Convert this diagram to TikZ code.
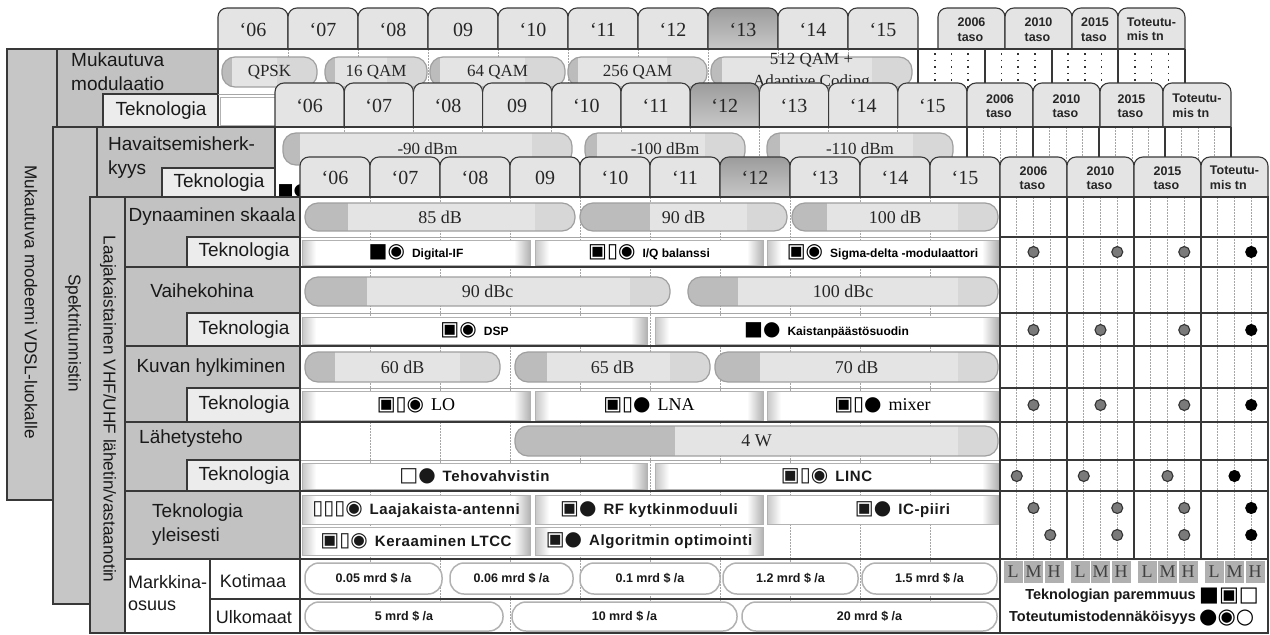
\documentclass[tikz,border=0pt]{standalone}
\usepackage{fontspec}
\setmainfont{Liberation Sans}
\newfontfamily\serif{Liberation Serif}
\newfontfamily\djv{DejaVu Sans}
\newfontfamily\spsans[LetterSpace=4]{Liberation Sans}
\usetikzlibrary{calc}

\definecolor{colgray}{HTML}{C6C6C6}
\definecolor{lblgray}{HTML}{C2C2C2}
\definecolor{tekgray}{HTML}{ECECEC}
\definecolor{tabfill}{HTML}{E4E4E4}
\definecolor{tabtop}{HTML}{9C9C9C}
\definecolor{tabbot}{HTML}{D4D4D4}
\definecolor{barfill}{HTML}{E4E4E4}
\definecolor{bardark}{HTML}{BCBCBC}
\definecolor{barlight}{HTML}{D7D7D7}
\definecolor{linec}{HTML}{383838}
\definecolor{dotgray}{HTML}{9A9A9A}
\definecolor{lmhgray}{HTML}{B0B0B0}
\definecolor{dotfill}{HTML}{7A7A7A}

\tikzset{
  tablt/.style={draw=linec, line width=1.1, fill=tabfill, rounded corners=9pt},
  tabdk/.style={draw=linec, line width=1.1, top color=tabtop, bottom color=tabbot, rounded corners=9pt},
  yr/.style={font=\serif\fontsize{20}{22}\selectfont, text=black!85},
  evt/.style={font=\bfseries\fontsize{12.5}{14.5}\selectfont, align=left, text=black!85, inner sep=0},
  lbl/.style={font=\fontsize{19}{24}\selectfont, text=black!90, inner sep=0},
  vlbl/.style={font=\fontsize{17.2}{20}\selectfont, text=black!90, rotate=-90, inner sep=0},
  bartxt/.style={font=\serif\fontsize{18}{22}\selectfont, text=black!85, inner sep=0},
  smbartxt/.style={font=\serif\fontsize{17}{22}\selectfont, text=black!85, inner sep=0, align=center},
  tektxt/.style={font=\bfseries\fontsize{12}{14}\selectfont, inner sep=0},
  tekser/.style={font=\serif\fontsize{18}{20}\selectfont, inner sep=0},
  teksp/.style={font=\spsans\bfseries\fontsize{15}{18}\selectfont, text=black!90, inner sep=0},
  mkt/.style={font=\bfseries\fontsize{12.5}{14}\selectfont, text=black!90, inner sep=0},
  legt/.style={font=\bfseries\fontsize{14.5}{16}\selectfont, text=black!90, inner sep=0},
  barline/.style={draw=gray!75, line width=1.2},
  frame/.style={draw=linec, line width=1.1},
  thinrow/.style={draw=gray!70, line width=0.8},
  vdot/.style={draw=gray!70, line width=0.9, dash pattern=on 1.5pt off 1.5pt},
  bigdot/.style={draw=black!80, line width=1.6, dash pattern=on 1.6pt off 5pt},
  edot/.style={circle, minimum size=11, inner sep=0, fill=dotfill, draw=black!80, line width=1.1},
  edotb/.style={circle, minimum size=11, inner sep=0, fill=black, draw=black, line width=1.1},
  lmh/.style={fill=lmhgray, minimum width=19, minimum height=22, inner sep=0, font=\serif\fontsize{18}{20}\selectfont, text=black!75},
}

% tab: name x1 x2 y1 y2 shapestyle nodestyle text
\newcommand\ytab[8]{%
  \path[#6] (#2,#4) rectangle (#3,{#5+12});
  \node[#7] (#1) at ({(#2+#3)/2},{(#4+#5)/2+1}) {#8};
}
% bar: name x1 x2 y1 y2 xdark nodestyle text
\newcommand\pbar[8]{%
  \begin{scope}
    \clip[rounded corners=13pt] (#2,#4) rectangle (#3,#5);
    \fill[barfill] (#2,#4) rectangle (#3,#5);
    \fill[bardark] (#2,#4) rectangle (#6,#5);
    \fill[barlight] ({#3-40},#4) rectangle (#3,#5);
  \end{scope}
  \draw[barline, rounded corners=13pt] (#2,#4) rectangle (#3,#5);
  \node[#7] (#1) at ({(#2+#3)/2},{(#4+#5)/2}) {#8};
}
% tech box: name x1 x2 y1 y2 nodestyle text
\newcommand\tbox[7]{%
  \fill[white] (#2,#4) rectangle (#3,#5);
  \shade[left color=gray!45, right color=white] (#2,#4) rectangle ({#2+14},#5);
  \shade[left color=white, right color=gray!60] ({#3-16},#4) rectangle (#3,#5);
  \draw[gray!60, line width=0.8] (#2,#4) rectangle (#3,#5);
  \node[#6] (#1) at ({(#2+#3)/2},{(#4+#5)/2}) {#7};
}
% market pill: name x1 x2 y1 y2 text
\newcommand\mpill[6]{%
  \filldraw[fill=white, draw=gray!60, line width=1.5, rounded corners=14pt] (#2,#4) rectangle (#3,#5);
  \node[mkt] (#1) at ({(#2+#3)/2},{(#4+#5)/2}) {#6};
}
\newcommand\ico[1]{{\djv\fontsize{20}{20}\selectfont#1}\hspace{7pt}}

\begin{document}
\begin{tikzpicture}[x=1pt, y=-1pt]
\useasboundingbox (0,0) rectangle (1270,635);
\fill[white] (0,0) rectangle (1270,635);

% ================= SHEET 1 =================
\foreach \t [count=\i from 0] in {‘06,‘07,‘08,09,‘10,‘11,‘12,‘13,‘14,‘15}{
  \pgfmathsetmacro\xa{218+70*\i}
  \pgfmathsetmacro\xb{288+70*\i}
  \ifnum\i=7
    \ytab{a\i}{\xa}{\xb}{8}{49}{tabdk}{yr}{\t}
  \else
    \ytab{a\i}{\xa}{\xb}{8}{49}{tablt}{yr}{\t}
  \fi
}
\ytab{a10}{938}{1005}{8}{49}{tablt}{evt}{2006\\taso}
\ytab{a11}{1005}{1072}{8}{49}{tablt}{evt}{2010\\taso}
\ytab{a12}{1072}{1118}{8}{49}{tablt}{evt}{2015\\taso}
\ytab{a13}{1118}{1185}{8}{49}{tablt}{evt}{Toteutu-\\mis tn}

\fill[white] (218,49) rectangle (1185,130);
\filldraw[fill=colgray, frame] (7,49) rectangle (57,500);
\node[vlbl] (v1) at (31,302) {Mukautuva modeemi VDSL-luokalle};
\filldraw[fill=lblgray, frame] (57,49) rectangle (218,127);
\node[lbl, align=left, anchor=west] (m1) at (71,72) {Mukautuva\\modulaatio};
\filldraw[fill=tekgray, frame] (103,94) rectangle (218,127);
\node[lbl] (t1) at (161,111) {Teknologia};
\foreach \i in {1,...,9} \draw[vdot] ({218+70*\i},49) -- ({218+70*\i},127);
\draw[thinrow] (218,94) -- (918,94);
\filldraw[fill=white, draw=gray!60, line width=0.8] (220,97) rectangle (640,125);
\pbar{a1b}{222}{317}{57}{87}{232}{smbartxt}{QPSK}
\pbar{a2b}{325}{427}{57}{87}{335}{smbartxt}{16 QAM}
\pbar{a3b}{430}{565}{57}{87}{440}{smbartxt}{64 QAM}
\pbar{a4b}{568}{707}{57}{87}{578}{smbartxt}{256 QAM}
\pbar{a5b}{711}{912}{57}{87}{722}{smbartxt}{512 QAM +\\Adaptive Coding}
\foreach \c in {0,...,3}{\foreach \k in {1,2,3}
  \draw[bigdot] ({918+66.75*\c+16.7*\k},53) -- ({918+66.75*\c+16.7*\k},127);}
\foreach \x in {918,985,1052,1118,1185} \draw[frame] (\x,49) -- (\x,127);
\draw[frame] (7,49) -- (1185,49);

% ================= SHEET 2 =================
\foreach \t [count=\i from 0] in {‘06,‘07,‘08,09,‘10,‘11,‘12,‘13,‘14,‘15}{
  \pgfmathsetmacro\xa{275+69.2*\i}
  \pgfmathsetmacro\xb{344.2+69.2*\i}
  \ifnum\i=6
    \ytab{b\i}{\xa}{\xb}{83}{127}{tabdk}{yr}{\t}
  \else
    \ytab{b\i}{\xa}{\xb}{83}{127}{tablt}{yr}{\t}
  \fi
}
\ytab{b10}{967}{1033}{83}{127}{tablt}{evt}{2006\\taso}
\ytab{b11}{1033}{1100}{83}{127}{tablt}{evt}{2010\\taso}
\ytab{b12}{1100}{1163}{83}{127}{tablt}{evt}{2015\\taso}
\ytab{b13}{1163}{1231}{83}{127}{tablt}{evt}{Toteutu-\\mis tn}

\fill[white] (275,127) rectangle (1231,200);
\filldraw[fill=colgray, frame] (53,127) rectangle (97,604);
\node[vlbl] (v2) at (73,333) {Spektritunnistin};
\filldraw[fill=lblgray, frame] (97,127) rectangle (275,200);
\node[lbl, align=left, anchor=west] (h2) at (108,158) {Havaitsemisherk-\\kyys};
\filldraw[fill=tekgray, frame] (162,168) rectangle (275,200);
\node[lbl] (t2) at (219,183) {Teknologia};
\foreach \i in {1,...,9} \draw[vdot] ({275+69.2*\i},127) -- ({275+69.2*\i},200);
\pbar{b1b}{283}{572}{133}{165}{300}{smbartxt}{-90 dBm}
\pbar{b2b}{585}{745}{133}{165}{597}{smbartxt}{-100 dBm}
\pbar{b3b}{767}{953}{133}{165}{780}{smbartxt}{-110 dBm}
\node[font=\djv\fontsize{17}{17}\selectfont, inner sep=0] (b2i) at (293,191) {■●};
\foreach \c in {0,...,3}{\foreach \k in {1,2,3}
  \draw[vdot] ({967+66*\c+16.5*\k},127) -- ({967+66*\c+16.5*\k},200);}
\foreach \x in {967,1033,1099,1165,1231} \draw[frame] (\x,127) -- (\x,200);
\draw[frame] (53,127) -- (1231,127);

% ================= SHEET 3 =================
\foreach \t [count=\i from 0] in {‘06,‘07,‘08,09,‘10,‘11,‘12,‘13,‘14,‘15}{
  \pgfmathsetmacro\xa{300+70*\i}
  \pgfmathsetmacro\xb{370+70*\i}
  \ifnum\i=6
    \ytab{c\i}{\xa}{\xb}{157}{197}{tabdk}{yr}{\t}
  \else
    \ytab{c\i}{\xa}{\xb}{157}{197}{tablt}{yr}{\t}
  \fi
}
\ytab{c10}{1000}{1067}{157}{197}{tablt}{evt}{2006\\taso}
\ytab{c11}{1067}{1134}{157}{197}{tablt}{evt}{2010\\taso}
\ytab{c12}{1134}{1201}{157}{197}{tablt}{evt}{2015\\taso}
\ytab{c13}{1201}{1268}{157}{197}{tablt}{evt}{Toteutu-\\mis tn}

\fill[white] (300,197) rectangle (1268,633);
\filldraw[fill=colgray, frame] (90,197) rectangle (125,633);
\node[vlbl] (v3) at (108,409) {Laajakaistainen VHF/UHF lähetin/vastaanotin};
\fill[lblgray] (125,197) rectangle (300,559);
\fill[white] (125,559) rectangle (300,633);

% row labels
\node[lbl] (r1) at (212,217) {Dynaaminen skaala};
\node[lbl] (r2) at (202,291) {Vaihekohina};
\node[lbl] (r3) at (211,368) {Kuvan hylkiminen};
\node[lbl, anchor=west] (r4) at (139,439) {Lähetysteho};
\node[lbl, align=left, anchor=west] (r5) at (152,525) {Teknologia\\yleisesti};
\node[lbl, font=\fontsize{18}{22}\selectfont, align=left, anchor=west] (r6) at (128,593) {Markkina-\\osuus};
\node[lbl, font=\fontsize{18}{22}\selectfont] (r6a) at (253,581) {Kotimaa};
\node[lbl, font=\fontsize{18}{22}\selectfont] (r6b) at (254,617) {Ulkomaat};
\foreach \ya/\yb/\n in {237/267/1, 313/346/2, 388/422/3, 460/491/4}{
  \filldraw[fill=tekgray, frame] (187,\ya) rectangle (300,\yb);
  \node[lbl] (tk\n) at (244,{(\ya+\yb)/2}) {Teknologia};
}

% year grid dotted lines
\foreach \i in {1,...,9} \draw[vdot] ({300+70*\i},197) -- ({300+70*\i},633);
% row lines
\foreach \y in {237,313,388,460} \draw[thinrow] (300,\y) -- (1000,\y);
\foreach \y in {267,346,422,491,559} \draw[frame] (125,\y) -- (1000,\y);
\draw[frame] (210,599) -- (1000,599);
\draw[frame] (210,559) -- (210,633);
\draw[frame] (300,197) -- (300,633);

% bars
\pbar{d1b}{305}{575}{203}{231}{348}{bartxt}{85 dB}
\pbar{d2b}{580}{787}{203}{231}{650}{bartxt}{90 dB}
\pbar{d3b}{792}{998}{203}{231}{827}{bartxt}{100 dB}
\pbar{e1b}{305}{670}{277}{306}{367}{bartxt}{90 dBc}
\pbar{e2b}{688}{998}{277}{306}{738}{bartxt}{100 dBc}
\pbar{f1b}{305}{500}{352}{382}{335}{bartxt}{60 dB}
\pbar{f2b}{515}{710}{352}{382}{547}{bartxt}{65 dB}
\pbar{f3b}{715}{998}{352}{382}{760}{bartxt}{70 dB}
\pbar{g1b}{515}{998}{426}{456}{675}{bartxt}{4 W}

% technology boxes
\tbox{d1}{302}{530}{240}{265}{tektxt}{\ico{■◉}Digital-IF}
\tbox{d2}{535}{763}{240}{265}{tektxt}{\ico{▣▯◉}I/Q balanssi}
\tbox{d3}{767}{998}{240}{265}{tektxt}{\ico{▣◉}Sigma-delta -modulaattori}
\tbox{e1}{302}{647}{317}{344}{tektxt}{\ico{▣◉}DSP}
\tbox{e2}{655}{998}{317}{344}{tektxt}{\ico{■●}Kaistanpäästösuodin}
\tbox{f1}{302}{530}{391}{420}{tekser}{\ico{▣▯◉}LO}
\tbox{f2}{535}{763}{391}{420}{tekser}{\ico{▣▯●}LNA}
\tbox{f3}{767}{998}{391}{420}{tekser}{\ico{▣▯●}mixer}
\tbox{g1}{302}{647}{463}{489}{teksp}{\ico{□●}Tehovahvistin}
\tbox{g2}{655}{998}{463}{489}{teksp}{\ico{▣▯◉}LINC}
\tbox{h1}{302}{530}{495}{524}{teksp}{\ico{▯▯▯◉}Laajakaista-antenni}
\tbox{h2}{535}{763}{495}{524}{teksp}{\ico{▣●}RF kytkinmoduuli}
\tbox{h3}{767}{998}{495}{524}{teksp}{\hspace{40pt}\ico{▣●}IC-piiri}
\tbox{h4}{302}{530}{527}{555}{teksp}{\ico{▣▯◉}Keraaminen LTCC}
\tbox{h5}{535}{763}{527}{555}{teksp}{\ico{▣●}Algoritmin optimointi}

% market pills
\mpill{p1}{305}{442}{563}{594}{0.05 mrd \$ /a}
\mpill{p2}{450}{573}{563}{594}{0.06 mrd \$ /a}
\mpill{p3}{580}{720}{563}{594}{0.1 mrd \$ /a}
\mpill{p4}{723}{858}{563}{594}{1.2 mrd \$ /a}
\mpill{p5}{862}{997}{563}{594}{1.5 mrd \$ /a}
\mpill{q1}{305}{503}{602}{631}{5 mrd \$ /a}
\mpill{q2}{512}{737}{602}{631}{10 mrd \$ /a}
\mpill{q3}{742}{997}{602}{631}{20 mrd \$ /a}

% evaluation grid
\foreach \c in {0,...,3}{\foreach \k in {1,2,3}
  \draw[vdot] ({1000+67*\c+16.75*\k},197) -- ({1000+67*\c+16.75*\k},559);}
\foreach \y in {237,267,313,346,388,422,460,491,559} \draw[frame] (1000,\y) -- (1268,\y);
\foreach \x in {1067,1134,1201} \draw[frame] (\x,197) -- (\x,559);
\draw[frame] (1000,197) -- (1000,633);

\foreach \x/\y [count=\n] in {1033.5/252,1117.25/252,1184.25/252,
  1033.5/330,1100.5/330,1184.25/330,
  1033.5/405,1100.5/405,1184.25/405,
  1016.75/476,1083.75/476,1167.5/476,
  1033.5/508,1117.25/508,1184.25/508,
  1050.25/535,1117.25/535,1184.25/535}
  \node[edot] (gd\n) at (\x,\y) {};
\foreach \x/\y [count=\n] in {1251.25/252,1251.25/330,1251.25/405,1234.5/476,1251.25/508,1251.25/535}
  \node[edotb] (bd\n) at (\x,\y) {};

\foreach \c in {0,...,3}{
  \node[lmh] (lL\c) at ({1000+67*\c+13},572) {L};
  \node[lmh] (lM\c) at ({1000+67*\c+33.5},572) {M};
  \node[lmh] (lH\c) at ({1000+67*\c+54},572) {H};
}
\node[legt, anchor=east] (lg1) at (1196,596) {Teknologian paremmuus};
\node[font=\djv\fontsize{21}{21}\selectfont, inner sep=0, anchor=west] (lg1i) at (1199,596) {■▣□};
\node[legt, anchor=east] (lg2) at (1196,618) {Toteutumistodennäköisyys};
\node[font=\djv\fontsize{21}{21}\selectfont, inner sep=0, anchor=west] (lg2i) at (1199,618) {●◉○};

% frames
\draw[frame] (125,197) rectangle (300,633);
\draw[frame] (90,197) rectangle (1268,633);
\end{tikzpicture}
\end{document}
